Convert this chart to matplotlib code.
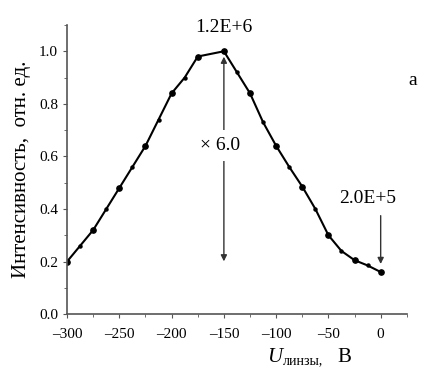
import numpy as np
import matplotlib.pyplot as plt
from matplotlib.ticker import MultipleLocator

plt.rcParams['font.family'] = ['Liberation Serif', 'DejaVu Serif']

# lens voltage, V and relative intensity
u_main = [-300, -275, -250, -225, -200, -175, -150, -125, -100, -75, -50, -25, 0]
i_main = [0.20, 0.32, 0.48, 0.64, 0.84, 0.98, 1.00, 0.84, 0.64, 0.485, 0.30, 0.205, 0.16]
# intermediate small points
u_mid = [-287.5, -262.5, -237.5, -212.5, -187.5, -137.5, -112.5, -87.5, -62.5, -37.5, -12.5]
i_mid = [0.26, 0.40, 0.56, 0.74, 0.90, 0.92, 0.73, 0.56, 0.40, 0.24, 0.185]
xticks = [-300, -250, -200, -150, -100, -50, 0]
xlabels = ['\u2013300', '\u2013250', '\u2013200', '\u2013150', '\u2013100', '\u201350', '0']

u_all = np.array(u_main + u_mid)
i_all = np.array(i_main + i_mid)
order = np.argsort(u_all)

fig = plt.figure(figsize=(4.22, 3.73), dpi=100)
ax = fig.add_axes([0.159, 0.158, 0.805, 0.775])

ax.plot(u_all[order], i_all[order], color='black', lw=1.5)
ax.plot(u_mid, i_mid, 'o', color='black', ms=2.2)
ax.plot(u_main, i_main, 'o', color='black', ms=3.8)

ax.set_xlim(-300, 25)
ax.set_ylim(0, 1.1)
ax.spines['top'].set_visible(False)
ax.spines['right'].set_visible(False)
for s in ['left', 'bottom']:
    ax.spines[s].set_color('#555555')
    ax.spines[s].set_linewidth(1.2)

ax.xaxis.set_minor_locator(MultipleLocator(25))
ax.yaxis.set_minor_locator(MultipleLocator(0.1))
ax.set_xticks(xticks)
ax.set_xticklabels(xlabels)
ax.set_yticks(np.arange(0, 1.01, 0.2))
ax.set_yticklabels(['0.0', '0.2', '0.4', '0.6', '0.8', '1.0'])
ax.tick_params(which='both', direction='out', color='#555555', labelsize=11)
ax.tick_params(which='major', length=3)
ax.tick_params(which='minor', length=2)
ax.tick_params(axis='x', pad=7)

# peak-to-zero ratio arrow
ax.annotate('', xy=(-150, 0.19), xytext=(-150, 0.99),
            arrowprops=dict(arrowstyle='<|-|>', color='#333333', lw=1, mutation_scale=9))
ax.text(-154, 0.64, '\u00d7 6.0', ha='center', va='center', fontsize=14,
        bbox=dict(facecolor='white', edgecolor='none', pad=5))
ax.text(-150, 1.075, '1.2E+6', ha='center', va='baseline', fontsize=14, clip_on=False)

ax.annotate('', xy=(0, 0.18), xytext=(0, 0.385),
            arrowprops=dict(arrowstyle='-|>', color='#333333', lw=1, mutation_scale=9))
ax.text(-12.5, 0.424, '2.0E+5', ha='center', va='baseline', fontsize=14)

ax.text(31, 0.89, 'a', ha='center', va='center', fontsize=14, clip_on=False)

ax.set_ylabel('Интенсивность,  отн. ед.', fontsize=15, labelpad=6)

fig.text(267 / 422, 1 - 357 / 373, 'U', fontsize=15, style='italic', ha='left', va='center')
fig.text(283 / 422, 1 - 361 / 373, 'линзы,', fontsize=10, ha='left', va='center')
fig.text(337 / 422, 1 - 357 / 373, 'В', fontsize=15, ha='left', va='center')

fig.savefig('out.png', dpi=100)
